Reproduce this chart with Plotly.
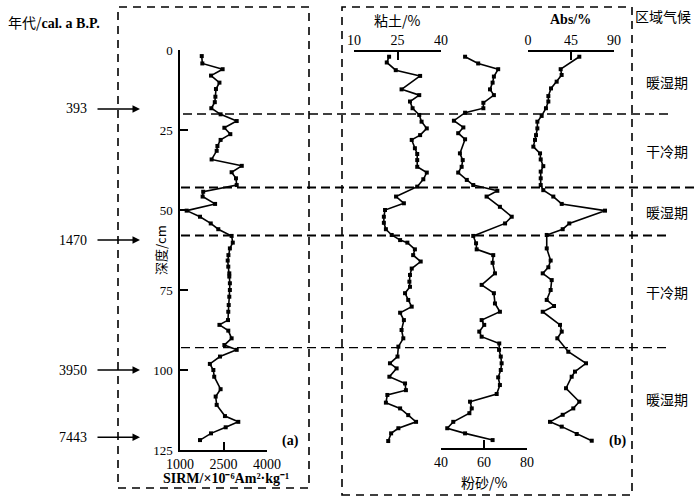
import plotly.graph_objects as go

W, H = 700, 503

# ---- data ----
sirm_depth = [1.9, 4.2, 6.0, 8.0, 10.2, 12.2, 14.6, 16.3, 18.2, 20.1, 22.2, 24.3, 26.3, 28.1, 30.0,
              31.5, 34.2, 36.2, 38.2, 40.1, 42.2, 44.3, 45.8, 48.1, 50.2, 52.1, 54.2, 56.0, 58.1,
              60.2, 62.0, 64.1, 65.8, 67.7, 69.8, 70.8, 72.9, 75.0, 77.1, 79.7, 81.8, 84.4, 85.9,
              87.7, 90.1, 92.2, 93.7, 95.8, 98.1, 100.0, 102.1, 106.0, 108.3, 110.9, 114.4, 116.2,
              117.9, 119.8, 121.9]
sirm = [1750, 1770, 2470, 2070, 2360, 2240, 2220, 2200, 2080, 2400, 2955, 2530, 2735, 2400, 2290,
        2265, 2090, 3130, 2780, 2930, 2955, 1800, 1780, 2210, 1230, 1690, 2060, 2320, 2780,
        2820, 2720, 2670, 2645, 2665, 2700, 2700, 2720, 2720, 2700, 2680, 2665, 2655, 2360,
        2665, 2780, 2530, 2955, 2380, 2030, 2150, 2180, 2400, 2230, 2265, 2550, 3010,
        2575, 2070, 1690]

clay_depth = [2.1, 3.9, 6.3, 8.1, 12.3, 14.1, 16.1, 18.2, 20.3, 22.4, 24.5, 26.6, 28.1, 30.7, 32.5,
              34.4, 36.5, 38.3, 40.4, 42.7, 45.8, 47.9, 50.0, 52.1, 54.0, 56.0, 57.8, 59.4, 60.2,
              62.3, 64.1, 66.1, 68.3, 70.3, 72.4, 74.0, 76.0, 78.1, 80.2, 82.1, 84.4, 87.5, 90.1,
              92.7, 95.8, 97.9, 99.5, 102.1, 104.2, 106.3, 107.8, 110.2, 112.0, 114.1, 116.2,
              118.2, 119.8, 122.2]
clay = [22.1, 21.3, 24.4, 32.8, 26.4, 32.5, 29.3, 30.2, 32.5, 33.3, 35.1, 32.8, 29.9, 31.0, 31.8,
        31.8, 31.8, 35.1, 33.9, 31.8, 24.5, 27.2, 20.7, 20.3, 20.3, 21.0, 23.0, 25.9, 28.4,
        31.0, 30.4, 33.0, 29.9, 29.3, 29.1, 29.3, 27.6, 28.7, 29.9, 25.9, 27.2, 26.4, 27.0,
        25.3, 25.0, 22.4, 24.7, 22.2, 27.6, 27.9, 21.5, 21.0, 25.9, 28.7, 31.4,
        25.3, 22.8, 21.8]

silt_depth = [2.1, 4.2, 6.0, 8.3, 10.2, 12.3, 14.1, 16.5, 18.2, 19.6, 22.1, 24.2, 26.0, 27.9, 32.3,
              34.4, 36.5, 38.3, 40.6, 42.2, 44.0, 45.8, 49.0, 52.1, 54.2, 58.1, 60.4, 62.3, 64.1,
              66.5, 69.8, 73.4, 76.0, 79.2, 81.8, 84.4, 85.9, 88.0, 89.6, 91.7, 93.7, 95.8, 97.9,
              100.0, 102.3, 104.7, 107.5, 109.9, 112.0, 113.5, 116.2, 118.2, 119.8, 121.9]
silt = [51.2, 57.3, 66.6, 64.6, 64.0, 62.8, 64.6, 59.7, 59.7, 51.2, 46.0, 50.4, 48.0, 51.2, 48.8,
        50.1, 49.6, 48.0, 52.0, 55.0, 66.2, 61.2, 67.4, 72.9, 69.8, 55.0, 56.3, 56.6, 64.3,
        64.0, 65.1, 58.9, 64.6, 65.1, 67.4, 58.9, 60.1, 57.8, 58.9, 67.1, 67.0, 67.8, 68.2,
        67.8, 66.6, 67.4, 65.9, 53.5, 54.3, 53.2, 45.7, 42.9, 51.2, 64.0]

abs_depth = [2.1, 6.0, 7.8, 9.9, 12.0, 14.4, 16.1, 18.2, 20.6, 22.4, 24.5, 26.6, 28.1, 30.2, 32.3,
             34.2, 36.3, 38.0, 40.1, 42.2, 43.8, 45.8, 48.1, 50.2, 54.2, 56.0, 57.8, 62.0, 65.8,
             67.9, 69.8, 71.9, 75.0, 78.1, 80.0, 81.8, 85.9, 88.0, 90.1, 94.3, 97.9, 100.5, 102.1,
             105.7, 109.9, 112.0, 114.0, 116.2, 117.7, 120.0, 122.1]
abs_val = [53.7, 34.2, 35.2, 30.0, 24.1, 21.3, 21.3, 18.8, 14.3, 9.8, 9.8, 8.4, 7.3, 5.6, 12.6,
           13.3, 16.0, 13.3, 13.3, 13.3, 16.0, 26.5, 35.3, 80.6, 43.2, 36.3, 19.6, 19.6, 23.7,
           21.3, 15.4, 24.8, 23.7, 19.6, 27.2, 15.4, 33.5, 35.3, 30.7, 42.2, 60.7, 49.2, 45.7,
           39.8, 53.7, 47.4, 36.3, 23.0, 35.3, 51.0, 66.7]

boundaries = [0, 20, 43, 58, 93, 125]
climate = ["暖湿期", "干冷期", "暖湿期", "干冷期", "暖湿期"]
ages = ["393", "1470", "3950", "7443"]
age_depth = [18.4, 59.4, 100, 121]

SERIF = "Liberation Serif"
CJK = "Noto Sans CJK SC"


def px(x):
    return x / W


def py(y):
    return 1 - y / H


fig = go.Figure()

line_style = dict(color="black", width=1.6)
mk = dict(symbol="square", size=4, color="black")
for xs, ys, xa in [(sirm, sirm_depth, "x"), (clay, clay_depth, "x2"),
                   (silt, silt_depth, "x3"), (abs_val, abs_depth, "x4")]:
    fig.add_trace(go.Scatter(x=xs, y=ys, xaxis=xa, yaxis="y", mode="lines+markers",
                             line=line_style, marker=mk, showlegend=False))

tickfont = dict(family=SERIF, size=14, color="black")
common = dict(showgrid=False, zeroline=False, showline=True, linecolor="black", linewidth=1.5,
              ticks="inside", ticklen=8, tickwidth=1.5, tickcolor="black", tickfont=tickfont,
              automargin=False)

fig.update_layout(
    width=W, height=H, margin=dict(l=0, r=0, t=0, b=0, pad=0, autoexpand=False),
    paper_bgcolor="white", plot_bgcolor="rgba(0,0,0,0)",
    yaxis=dict(domain=[py(450), py(50)], range=[125, 0], anchor="x",
               tickvals=[0, 25, 50, 75, 100, 125], ticklabelstandoff=3,
               **{**common, "tickfont": dict(family=SERIF, size=13, color="black")}),
    xaxis=dict(domain=[px(180), px(267)], range=[1000, 4000], anchor="y",
               tickvals=[1000, 2500, 4000], ticklabelstandoff=0, **common),
    xaxis2=dict(domain=[px(354), px(441)], range=[10, 40], anchor="free", position=py(51),
                side="top", tickvals=[10, 25, 40], **common),
    xaxis3=dict(domain=[px(441), px(527)], range=[40, 80], anchor="free", position=py(449),
                side="bottom", tickvals=[40, 60, 80], **common),
    xaxis4=dict(domain=[px(528), px(614)], range=[0, 90], anchor="free", position=py(51),
                side="top", tickvals=[0, 45, 90], **common),
)

# dashed boxes
box = dict(color="black", width=1.6, dash="8px,6px")
fig.add_shape(type="rect", xref="paper", yref="paper", x0=px(118), x1=px(309),
              y0=py(488), y1=py(7), line=box)
fig.add_shape(type="rect", xref="paper", yref="paper", x0=px(342), x1=px(632),
              y0=py(495), y1=py(7), line=box)

# horizontal boundary lines
ends = {20: (183, 668, 1.5), 43: (181, 695, 2), 58: (181, 668, 2), 93: (181, 668, 1.3)}
for d in boundaries[1:-1]:
    x0, x1, w = ends[d]
    fig.add_shape(type="line", xref="paper", yref="y", x0=px(x0), x1=px(x1), y0=d, y1=d,
                  line=dict(color="black", width=w, dash="9px,5px"))

cjk_font = dict(family=CJK, size=14, color="black")
ser_font = dict(family=SERIF, size=14, color="black")


def note(x, y, text, font, yref="paper", xanchor="center", **kw):
    fig.add_annotation(x=px(x), y=y if yref == "y" else py(y), xref="paper", yref=yref,
                       text=text, showarrow=False, font=font, xanchor=xanchor,
                       yanchor="middle", **kw)


# climate zone labels
for i, name in enumerate(climate):
    note(667, (boundaries[i] + boundaries[i + 1]) / 2, name, cjk_font, yref="y")

# age arrows
for a, d in zip(ages, age_depth):
    note(89, d, a, ser_font, yref="y", xanchor="right")
    fig.add_annotation(x=px(140), y=d, xref="paper", yref="y", text="", showarrow=True,
                       ax=-44, ay=0, arrowhead=2, arrowsize=1, arrowwidth=1.5,
                       arrowcolor="black")

note(6, 22, "年代/<span style='font-family:Liberation Serif'><b>cal. a B.P.</b></span>",
     cjk_font, xanchor="left")
note(663, 16, "区域气候", cjk_font)
note(397, 20, "粘土/%", cjk_font)
note(570, 20, "<b>Abs/%</b>", ser_font)
note(484, 482, "粉砂/%", cjk_font)
note(226, 478, "<b>SIRM/×10⁻⁶Am²·kg⁻¹</b>", ser_font)
note(290, 441, "<b>(a)</b>", ser_font)
note(617, 441, "<b>(b)</b>", ser_font)
# y-axis title
note(160, 250, "深度/cm", dict(family=CJK, size=13, color="black"), textangle=-90)

fig.write_html("out.html", config={"displayModeBar": False},
               post_script="document.body.style.margin='0';")
